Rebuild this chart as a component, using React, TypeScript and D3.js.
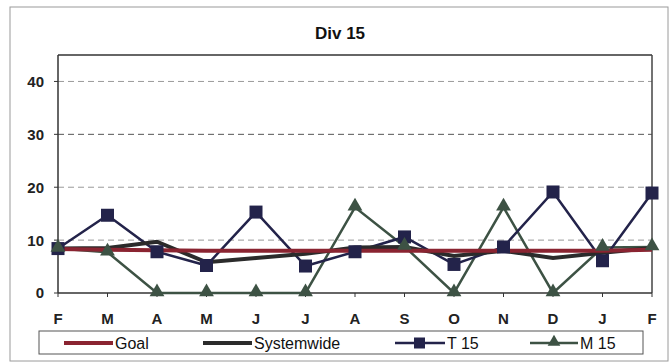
import React from "react";
import * as d3 from "d3";

const months = ["F", "M", "A", "M", "J", "J", "A", "S", "O", "N", "D", "J", "F"];
const goal = [8.3, 8.2, 8.1, 8, 8, 8, 8, 8, 8, 8, 8, 8, 8.2];
const systemwide = [8.4, 8.5, 9.7, 5.8, 6.6, 7.4, 8.6, 8.7, 7.0, 8.0, 6.6, 7.6, 8.5];
const t15 = [8.4, 14.7, 7.8, 5.2, 15.3, 5.1, 7.8, 10.6, 5.4, 8.7, 19.1, 6.1, 18.9];
const m15 = [8.4, 7.7, 0, 0, 0, 0, 16.2, 8.8, 0, 16.2, 0, 8.6, 8.7];
const yTicks = [0, 10, 20, 30, 40];

const W = 670;
const H = 364;
const L = 58;
const R = 652;
const T = 55;
const B = 293;

const colors = {
  goal: "#8a2431",
  sys: "#2b2b2b",
  t15: "#23234a",
  m15: "#3d5244",
};

export default function App() {
  const x = d3.scalePoint<number>().domain(d3.range(months.length)).range([L, R]);
  const y = d3.scaleLinear().domain([0, 45]).range([B, T]);
  const line = d3
    .line<number>()
    .x((_, i) => x(i) as number)
    .y((d) => y(d));
  const font = "'Liberation Sans', Arial, sans-serif";
  const tri = d3.symbol().type(d3.symbolTriangle).size(95)();
  const triSmall = d3.symbol().type(d3.symbolTriangle).size(70)();

  return (
    <svg
      width={W}
      height={H}
      style={{ position: "absolute", left: 0, top: 0, background: "#fff" }}
      fontFamily={font}
    >
      <rect x={10} y={7} width={658} height={354} fill="#fff" stroke="#9a9a9a" strokeWidth={1} />
      <text x={340} y={39} textAnchor="middle" fontSize={17} fontWeight="bold" fill="#111">
        Div 15
      </text>
      {/* gridlines */}
      {yTicks
        .filter((t) => t > 0)
        .map((t) => (
          <line
            key={t}
            x1={L}
            x2={R}
            y1={y(t)}
            y2={y(t)}
            stroke={t === 30 ? "#555" : "#999"}
            strokeWidth={1}
            strokeDasharray="6 4"
          />
        ))}
      {/* frame */}
      <line x1={L} x2={R} y1={T} y2={T} stroke="#333" strokeWidth={1.5} />
      <line x1={L} x2={L} y1={T} y2={B} stroke="#333" strokeWidth={1.5} />
      <line x1={R} x2={R} y1={T} y2={B} stroke="#444" strokeWidth={1.5} />
      <line x1={L} x2={R} y1={B} y2={B} stroke="#333" strokeWidth={1.5} />
      {/* y ticks */}
      {yTicks.map((t) => (
        <g key={t}>
          <line x1={L - 4} x2={L} y1={y(t)} y2={y(t)} stroke="#333" />
          <text
            x={44}
            y={y(t)}
            dy="0.36em"
            textAnchor="end"
            fontSize={15}
            fontWeight="bold"
            fill="#222"
          >
            {t}
          </text>
        </g>
      ))}
      {/* x ticks */}
      {months.map((m, i) => (
        <g key={i}>
          <line x1={x(i)} x2={x(i)} y1={B} y2={B + 4} stroke="#333" />
          <text
            x={x(i) as number}
            y={324}
            textAnchor="middle"
            fontSize={15}
            fontWeight="bold"
            fill="#222"
          >
            {m}
          </text>
        </g>
      ))}
      {/* series */}
      <path d={line(m15) || ""} fill="none" stroke={colors.m15} strokeWidth={2.5} />
      <path d={line(t15) || ""} fill="none" stroke={colors.t15} strokeWidth={2.5} />
      <path d={line(systemwide) || ""} fill="none" stroke={colors.sys} strokeWidth={4} />
      <path d={line(goal) || ""} fill="none" stroke={colors.goal} strokeWidth={4} />
      {t15.map((d, i) => (
        <rect
          key={"t" + i}
          x={(x(i) as number) - 6.5}
          y={y(d) - 6.5}
          width={13}
          height={13}
          fill={colors.t15}
        />
      ))}
      {m15.map((d, i) => (
        <path
          key={"m" + i}
          d={tri || ""}
          transform={`translate(${x(i)},${y(d) - 1})`}
          fill={colors.m15}
        />
      ))}
      {/* legend */}
      <rect x={39} y={331} width={604} height={23} fill="#fff" stroke="#555" strokeWidth={1} />
      <line x1={64} x2={113} y1={343} y2={343} stroke={colors.goal} strokeWidth={4} />
      <text x={115} y={348.5} fontSize={16} fill="#111">
        Goal
      </text>
      <line x1={203} x2={252} y1={343} y2={343} stroke={colors.sys} strokeWidth={4} />
      <text x={254} y={348.5} fontSize={16} fill="#111">
        Systemwide
      </text>
      <line x1={395} x2={445} y1={343} y2={343} stroke={colors.t15} strokeWidth={2.5} />
      <rect x={414} y={337.5} width={11} height={11} fill={colors.t15} />
      <text x={447} y={348.5} fontSize={16} fill="#111">
        T 15
      </text>
      <line x1={530} x2={578} y1={343} y2={343} stroke={colors.m15} strokeWidth={2.5} />
      <path d={triSmall || ""} transform="translate(554,342)" fill={colors.m15} />
      <text x={580} y={348.5} fontSize={16} fill="#111">
        M 15
      </text>
    </svg>
  );
}
